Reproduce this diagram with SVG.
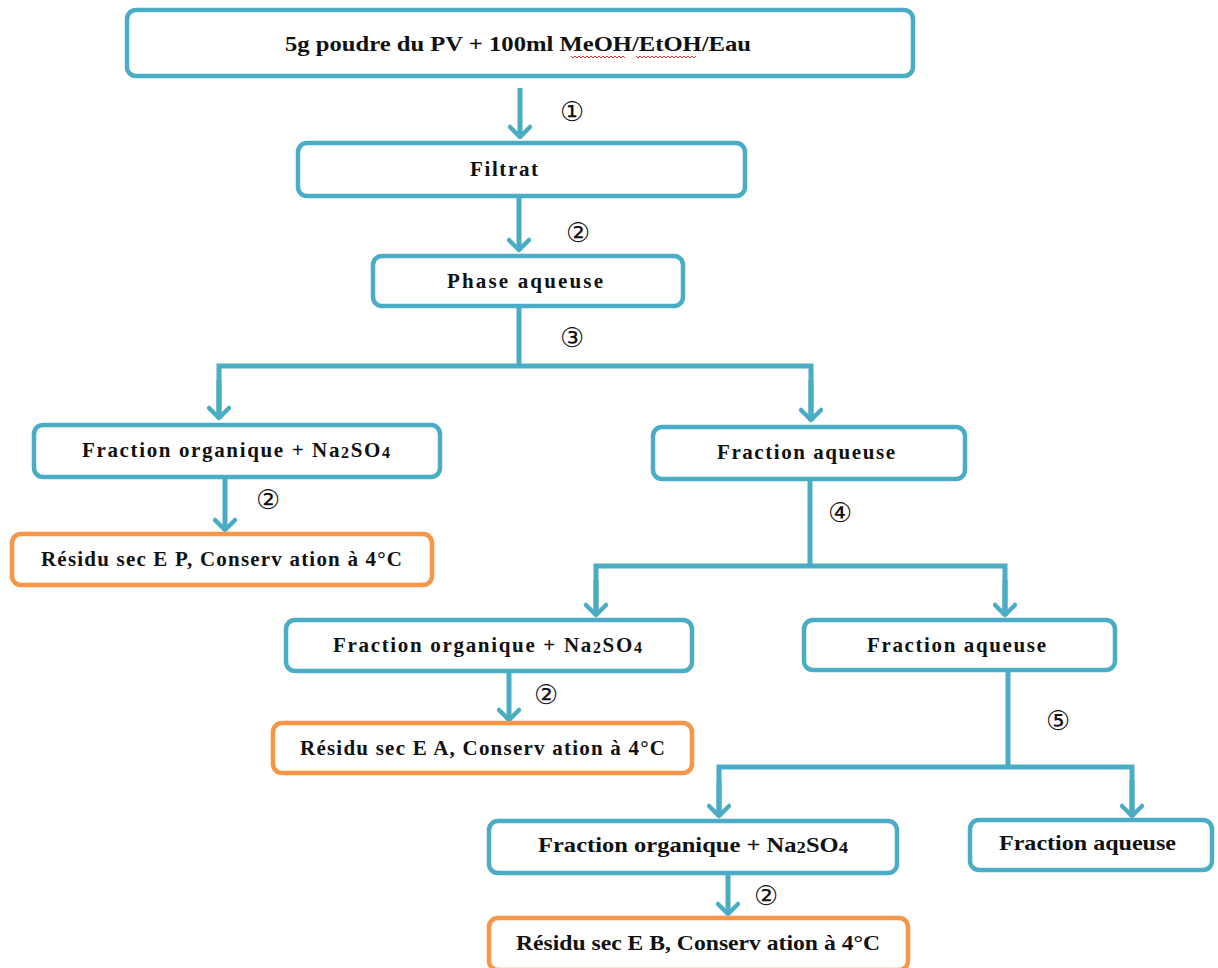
<svg xmlns="http://www.w3.org/2000/svg" width="1218" height="968" viewBox="0 0 1218 968">
<style>
.b{fill:#fff;stroke:#4BACC6;stroke-width:4.5}
.o{fill:#fff;stroke:#F79646;stroke-width:4.5}
.t{font-family:"Liberation Serif",serif;font-weight:bold;font-size:21px;fill:#111}
.n{font-family:"DejaVu Sans",sans-serif;font-size:27px;fill:#111;text-anchor:middle;dominant-baseline:central}
.c{fill:none;stroke:#4BACC6;stroke-width:5}
.sq{fill:none;stroke:#e03030;stroke-width:1}
</style>
<defs>
<marker id="ah" viewBox="-14 -12 18 24" refX="0" refY="0" markerWidth="18" markerHeight="24" markerUnits="userSpaceOnUse" orient="auto">
<path d="M-11,-10 L-1,0 L-11,10" fill="none" stroke="#4BACC6" stroke-width="4.5" stroke-linecap="round" stroke-linejoin="round"/>
</marker>
</defs>
<rect width="1218" height="968" fill="#fff"/>
<g id="connectors">
<line class="c" x1="520" y1="88" x2="520" y2="138" marker-end="url(#ah)"/>
<line class="c" x1="519" y1="198" x2="519" y2="251" marker-end="url(#ah)"/>
<polyline class="c" points="519,308 519,366"/>
<polyline class="c" points="219,418 219,366 811,366 811,420"/>
<line class="c" x1="219" y1="380" x2="219" y2="419" marker-end="url(#ah)"/>
<line class="c" x1="811" y1="380" x2="811" y2="421" marker-end="url(#ah)"/>
<line class="c" x1="225" y1="478" x2="225" y2="531" marker-end="url(#ah)"/>
<polyline class="c" points="810,481 810,566"/>
<polyline class="c" points="596,615 596,566 1005,566 1005,615"/>
<line class="c" x1="596" y1="580" x2="596" y2="616" marker-end="url(#ah)"/>
<line class="c" x1="1005" y1="580" x2="1005" y2="616" marker-end="url(#ah)"/>
<line class="c" x1="509" y1="673" x2="509" y2="721" marker-end="url(#ah)"/>
<polyline class="c" points="1008,672 1008,767"/>
<polyline class="c" points="719,815 719,767 1132,767 1132,815"/>
<line class="c" x1="719" y1="780" x2="719" y2="817" marker-end="url(#ah)"/>
<line class="c" x1="1132" y1="780" x2="1132" y2="817" marker-end="url(#ah)"/>
<line class="c" x1="728" y1="875" x2="728" y2="915" marker-end="url(#ah)"/>
</g>
<g id="labels">
<text class="n" x="572" y="111">①</text>
<text class="n" x="578" y="232">②</text>
<text class="n" x="572" y="337">③</text>
<text class="n" x="268" y="499">②</text>
<text class="n" x="840" y="512">④</text>
<text class="n" x="546" y="694">②</text>
<text class="n" x="1058" y="720">⑤</text>
<text class="n" x="766" y="895">②</text>
</g>
<g id="n1"><rect class="b" x="127" y="10" width="786" height="66" rx="9"/><text class="t" x="285" y="51" textLength="466" lengthAdjust="spacingAndGlyphs">5g poudre du PV + 100ml MeOH/EtOH/Eau</text>
<path class="sq" d="M571,56 l2,2 l2,-2 l2,2 l2,-2 l2,2 l2,-2 l2,2 l2,-2 l2,2 l2,-2 l2,2 l2,-2 l2,2 l2,-2 l2,2 l2,-2 l2,2 l2,-2 l2,2 l2,-2 l2,2 l2,-2 l2,2 l2,-2 l2,2 l2,-2 l2,2"/>
<path class="sq" d="M636,56 l2,2 l2,-2 l2,2 l2,-2 l2,2 l2,-2 l2,2 l2,-2 l2,2 l2,-2 l2,2 l2,-2 l2,2 l2,-2 l2,2 l2,-2 l2,2 l2,-2 l2,2 l2,-2 l2,2 l2,-2 l2,2 l2,-2 l2,2 l2,-2 l2,2 l2,-2 l2,2 l2,-2"/></g>
<g id="n2"><rect class="b" x="298" y="143" width="447" height="53" rx="9"/><text class="t" x="470" y="176" textLength="68" lengthAdjust="spacing">Filtrat</text></g>
<g id="n3"><rect class="b" x="373" y="256" width="310" height="50" rx="9"/><text class="t" x="447" y="288" textLength="156" lengthAdjust="spacing">Phase  aqueuse</text></g>
<g id="n4"><rect class="b" x="34" y="425" width="406" height="52" rx="9"/><text class="t" x="82" y="457" textLength="308" lengthAdjust="spacing">Fraction organique + Na<tspan font-size="16" dy="1">2</tspan><tspan dy="-1">SO</tspan><tspan font-size="16" dy="1">4</tspan></text></g>
<g id="n5"><rect class="o" x="12" y="534" width="420" height="51" rx="9"/><text class="t" x="41" y="566" textLength="361" lengthAdjust="spacing">Résidu  sec E P, Conserv ation à 4°C</text></g>
<g id="n6"><rect class="b" x="653" y="427" width="312" height="52" rx="9"/><text class="t" x="717" y="459" textLength="178" lengthAdjust="spacing">Fraction aqueuse</text></g>
<g id="n7"><rect class="b" x="286" y="620" width="406" height="51" rx="9"/><text class="t" x="333" y="652" textLength="309" lengthAdjust="spacing">Fraction organique + Na<tspan font-size="16" dy="1">2</tspan><tspan dy="-1">SO</tspan><tspan font-size="16" dy="1">4</tspan></text></g>
<g id="n8"><rect class="o" x="273" y="723" width="419" height="50" rx="9"/><text class="t" x="300" y="755" textLength="365" lengthAdjust="spacing">Résidu  sec E A, Conserv ation à 4°C</text></g>
<g id="n9"><rect class="b" x="804" y="620" width="311" height="50" rx="9"/><text class="t" x="867" y="652" textLength="179" lengthAdjust="spacing">Fraction aqueuse</text></g>
<g id="n10"><rect class="b" x="489" y="821" width="408" height="52" rx="9"/><text class="t" x="538" y="852" textLength="310" lengthAdjust="spacingAndGlyphs">Fraction organique + Na<tspan font-size="16" dy="1">2</tspan><tspan dy="-1">SO</tspan><tspan font-size="16" dy="1">4</tspan></text></g>
<g id="n11"><rect class="b" x="970" y="820" width="242" height="50" rx="9"/><text class="t" x="999" y="850" textLength="177" lengthAdjust="spacingAndGlyphs">Fraction aqueuse</text></g>
<g id="n12"><rect class="o" x="489" y="918" width="419" height="52" rx="9"/><text class="t" x="516" y="950" textLength="364" lengthAdjust="spacingAndGlyphs">Résidu  sec E B, Conserv ation à 4°C</text></g>
</svg>
